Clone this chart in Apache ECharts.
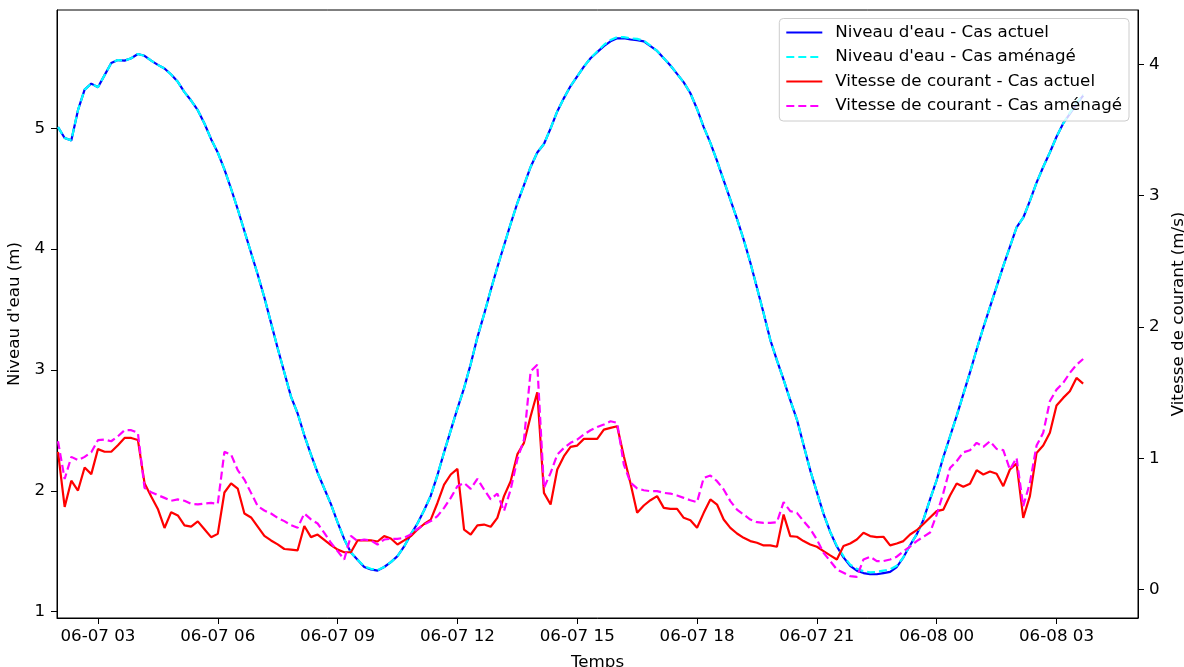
<!DOCTYPE html>
<html>
<head>
<meta charset="utf-8">
<script src="https://cdn.jsdelivr.net/npm/echarts@6/dist/echarts.min.js"></script>
<style>
html,body{margin:0;padding:0;background:#fff;}
#chart{width:1184px;height:667px;}
</style>
</head>
<body>
<div id="chart"></div>
<script>
// Time: first sample 06-07 02:00, one sample every 10 minutes (hours since 06-07 00:00)
const startHour = 2;
const stepHours = 1 / 6;

const xTickHours = [3, 6, 9, 12, 15, 18, 21, 24, 27];
const xTickLabels = ['06-07 03', '06-07 06', '06-07 09', '06-07 12', '06-07 15', '06-07 18', '06-07 21', '06-08 00', '06-08 03'];
const leftTicks = [1, 2, 3, 4, 5];
const rightTicks = [0, 1, 2, 3, 4];

const seriesNames = ["Niveau d'eau - Cas actuel", "Niveau d'eau - Cas aménagé", "Vitesse de courant - Cas actuel", "Vitesse de courant - Cas aménagé"];

const nivActuel = [
5.01,4.92,4.90,5.15,5.32,5.37,5.34,5.44,5.54,5.565,
5.56,5.58,5.615,5.60,5.56,5.525,5.495,5.445,5.385,5.30,
5.23,5.15,5.04,4.91,4.80,4.66,4.50,4.33,4.15,3.97,
3.79,3.60,3.39,3.18,2.98,2.78,2.64,2.46,2.30,2.15,
2.02,1.89,1.74,1.60,1.49,1.43,1.37,1.35,1.34,1.37,
1.41,1.46,1.54,1.64,1.73,1.84,1.96,2.13,2.32,2.50,
2.68,2.85,3.05,3.27,3.46,3.66,3.85,4.03,4.21,4.38,
4.53,4.68,4.80,4.87,5.00,5.14,5.25,5.35,5.43,5.51,
5.58,5.63,5.68,5.72,5.745,5.745,5.735,5.73,5.72,5.68,
5.64,5.58,5.52,5.45,5.38,5.29,5.16,5.01,4.88,4.73,
4.57,4.41,4.25,4.08,3.89,3.68,3.47,3.25,3.08,2.92,
2.75,2.59,2.38,2.17,1.99,1.81,1.66,1.54,1.45,1.38,
1.34,1.32,1.31,1.31,1.32,1.33,1.37,1.45,1.55,1.64,
1.76,1.93,2.09,2.28,2.45,2.62,2.80,2.98,3.17,3.35,
3.52,3.69,3.86,4.02,4.18,4.26,4.40,4.55,4.68,4.80,
4.93,5.04,5.12,5.20,5.27
];

const nivAmenage = [
5.01,4.92,4.90,5.15,5.32,5.37,5.34,5.44,5.54,5.565,
5.56,5.58,5.615,5.60,5.56,5.525,5.495,5.445,5.385,5.30,
5.23,5.15,5.04,4.91,4.80,4.66,4.50,4.33,4.15,3.97,
3.79,3.60,3.39,3.18,2.98,2.78,2.64,2.46,2.30,2.15,
2.02,1.89,1.74,1.60,1.49,1.43,1.375,1.355,1.345,1.37,
1.41,1.46,1.54,1.64,1.73,1.84,1.96,2.13,2.32,2.50,
2.68,2.85,3.05,3.27,3.46,3.66,3.85,4.03,4.21,4.38,
4.53,4.68,4.80,4.87,5.00,5.14,5.25,5.35,5.43,5.51,
5.58,5.635,5.69,5.73,5.755,5.755,5.745,5.74,5.725,5.685,
5.64,5.58,5.52,5.45,5.38,5.29,5.16,5.01,4.88,4.73,
4.57,4.41,4.25,4.08,3.89,3.68,3.47,3.25,3.08,2.92,
2.75,2.59,2.38,2.17,1.99,1.81,1.66,1.545,1.46,1.39,
1.355,1.335,1.325,1.33,1.34,1.35,1.38,1.45,1.55,1.64,
1.76,1.93,2.09,2.28,2.45,2.62,2.80,2.98,3.17,3.35,
3.52,3.69,3.86,4.02,4.18,4.26,4.40,4.55,4.68,4.80,
4.93,5.04,5.13,5.21,5.28
];

const vitActuel = [
1.05,0.63,0.83,0.755,0.93,0.88,1.07,1.05,1.05,1.10,
1.155,1.155,1.14,0.81,0.71,0.615,0.47,0.59,0.565,0.49,
0.48,0.52,0.46,0.40,0.425,0.74,0.81,0.77,0.58,0.55,
0.48,0.41,0.375,0.345,0.31,0.305,0.30,0.485,0.40,0.42,
0.38,0.34,0.305,0.285,0.285,0.375,0.377,0.375,0.367,0.408,
0.39,0.344,0.375,0.408,0.458,0.50,0.534,0.66,0.80,0.877,
0.92,0.458,0.42,0.489,0.496,0.479,0.547,0.712,0.826,1.03,
1.118,1.32,1.503,0.737,0.648,0.915,1.016,1.087,1.097,1.148,
1.148,1.148,1.219,1.232,1.244,1.016,0.81,0.585,0.641,0.681,
0.712,0.623,0.615,0.615,0.547,0.529,0.471,0.585,0.687,0.648,
0.534,0.471,0.428,0.395,0.37,0.357,0.337,0.337,0.327,0.572,
0.408,0.403,0.37,0.344,0.327,0.294,0.261,0.23,0.332,0.352,
0.382,0.433,0.408,0.40,0.403,0.337,0.352,0.37,0.42,0.453,
0.50,0.55,0.598,0.61,0.717,0.808,0.783,0.806,0.91,0.877,
0.90,0.882,0.788,0.915,0.961,0.547,0.712,1.041,1.097,1.194,
1.402,1.46,1.51,1.612,1.569
];

const vitAmenage = [
1.13,0.843,1.011,0.986,1.011,1.046,1.138,1.143,1.13,1.168,
1.214,1.214,1.194,0.775,0.742,0.72,0.699,0.677,0.687,0.677,
0.654,0.649,0.656,0.661,0.654,1.049,1.029,0.91,0.838,0.737,
0.636,0.603,0.58,0.547,0.522,0.491,0.471,0.58,0.535,0.504,
0.433,0.357,0.294,0.23,0.41,0.37,0.382,0.375,0.344,0.382,
0.387,0.387,0.395,0.42,0.463,0.496,0.522,0.56,0.623,0.699,
0.788,0.813,0.768,0.844,0.763,0.687,0.732,0.598,0.763,0.991,
1.143,1.662,1.713,0.775,0.889,1.029,1.079,1.118,1.143,1.181,
1.214,1.239,1.257,1.282,1.27,0.953,0.815,0.771,0.757,0.75,
0.75,0.737,0.732,0.717,0.699,0.681,0.666,0.851,0.869,0.826,
0.763,0.674,0.61,0.572,0.534,0.514,0.509,0.509,0.514,0.666,
0.598,0.585,0.522,0.463,0.382,0.281,0.218,0.154,0.129,0.103,
0.098,0.23,0.251,0.218,0.218,0.23,0.251,0.293,0.328,0.37,
0.403,0.435,0.572,0.737,0.927,0.978,1.046,1.062,1.118,1.087,
1.13,1.072,1.062,0.915,1.003,0.636,0.813,1.097,1.194,1.434,
1.523,1.574,1.65,1.713,1.756
];

const times = nivActuel.map((_, i) => startHour + i * stepHours);
const pairs = arr => arr.map((v, i) => [times[i], v]);

const FONT = 'DejaVu Sans';
const FS = 16.7;

const chart = echarts.init(document.getElementById('chart'), null, {renderer: 'canvas'});
const dash = [8, 4];

const option = {
  animation: false,
  backgroundColor: '#ffffff',
  textStyle: {fontFamily: FONT},
  grid: {left: 57, right: 46, top: 10, bottom: 49, containLabel: false, outerBoundsMode: 'none',
         show: true, borderColor: '#000', borderWidth: 1, backgroundColor: 'transparent'},
  legend: {
    orient: 'vertical',
    right: 55,
    top: 18.5,
    padding: [5, 7, 6, 6],
    itemWidth: 36,
    itemHeight: 14,
    itemGap: 6.5,
    itemStyle: {opacity: 0},
    backgroundColor: 'rgba(255,255,255,0.8)',
    borderColor: '#cccccc',
    borderWidth: 1,
    borderRadius: 4,
    textStyle: {fontFamily: FONT, fontSize: FS, color: '#000', lineHeight: 18, padding: [0, 0, 0, 8]},
    data: seriesNames
  },
  xAxis: {
    type: 'value',
    min: 1.975,
    max: 29.04,
    name: 'Temps',
    nameLocation: 'middle',
    nameGap: 36,
    nameTextStyle: {fontFamily: FONT, fontSize: FS, color: '#000', verticalAlign: 'top'},
    axisLine: {show: true, onZero: false, lineStyle: {color: '#000', width: 1}},
    axisTick: {show: true, length: 6, lineStyle: {color: '#000', width: 1}, customValues: xTickHours},
    axisLabel: {
      customValues: xTickHours,
      margin: 10,
      fontFamily: FONT, fontSize: FS, color: '#000',
      formatter: v => { const k = xTickHours.findIndex(h => Math.abs(h - v) < 1e-6); return k >= 0 ? xTickLabels[k] : ''; }
    },
    splitLine: {show: false}
  },
  yAxis: [
    {
      type: 'value',
      min: 0.948,
      max: 5.979,
      position: 'left',
      name: "Niveau d'eau (m)",
      nameLocation: 'middle',
      nameGap: 30,
      nameRotate: 90,
      nameTextStyle: {fontFamily: FONT, fontSize: FS, color: '#000'},
      axisLine: {show: true, lineStyle: {color: '#000', width: 1}},
      axisTick: {show: true, length: 6, lineStyle: {color: '#000', width: 1}, customValues: leftTicks},
      axisLabel: {customValues: leftTicks, margin: 12, fontFamily: FONT, fontSize: FS, color: '#000', formatter: v => String(v)},
      splitLine: {show: false}
    },
    {
      type: 'value',
      min: -0.2155,
      max: 4.413,
      position: 'right',
      name: 'Vitesse de courant (m/s)',
      nameLocation: 'middle',
      nameGap: 27,
      nameRotate: 90,
      nameTextStyle: {fontFamily: FONT, fontSize: FS, color: '#000'},
      axisLine: {show: true, lineStyle: {color: '#000', width: 1}},
      axisTick: {show: true, length: 6, lineStyle: {color: '#000', width: 1}, customValues: rightTicks},
      axisLabel: {customValues: rightTicks, margin: 11, fontFamily: FONT, fontSize: FS, color: '#000', formatter: v => String(v)},
      splitLine: {show: false}
    }
  ],
  series: [
    {name: seriesNames[0], type: 'line', yAxisIndex: 0, data: pairs(nivActuel), symbol: 'none', showSymbol: false,
     lineStyle: {color: '#0000ff', width: 2.2, type: 'solid'}, itemStyle: {color: '#0000ff'}},
    {name: seriesNames[1], type: 'line', yAxisIndex: 0, data: pairs(nivAmenage), symbol: 'none', showSymbol: false,
     lineStyle: {color: '#00ffff', width: 2.2, type: dash}, itemStyle: {color: '#00ffff'}},
    {name: seriesNames[2], type: 'line', yAxisIndex: 1, data: pairs(vitActuel), symbol: 'none', showSymbol: false,
     lineStyle: {color: '#ff0000', width: 2.2, type: 'solid'}, itemStyle: {color: '#ff0000'}},
    {name: seriesNames[3], type: 'line', yAxisIndex: 1, data: pairs(vitAmenage), symbol: 'none', showSymbol: false,
     lineStyle: {color: '#ff00ff', width: 2.2, type: dash}, itemStyle: {color: '#ff00ff'}}
  ]
};
chart.setOption(option);
</script>
</body>
</html>
